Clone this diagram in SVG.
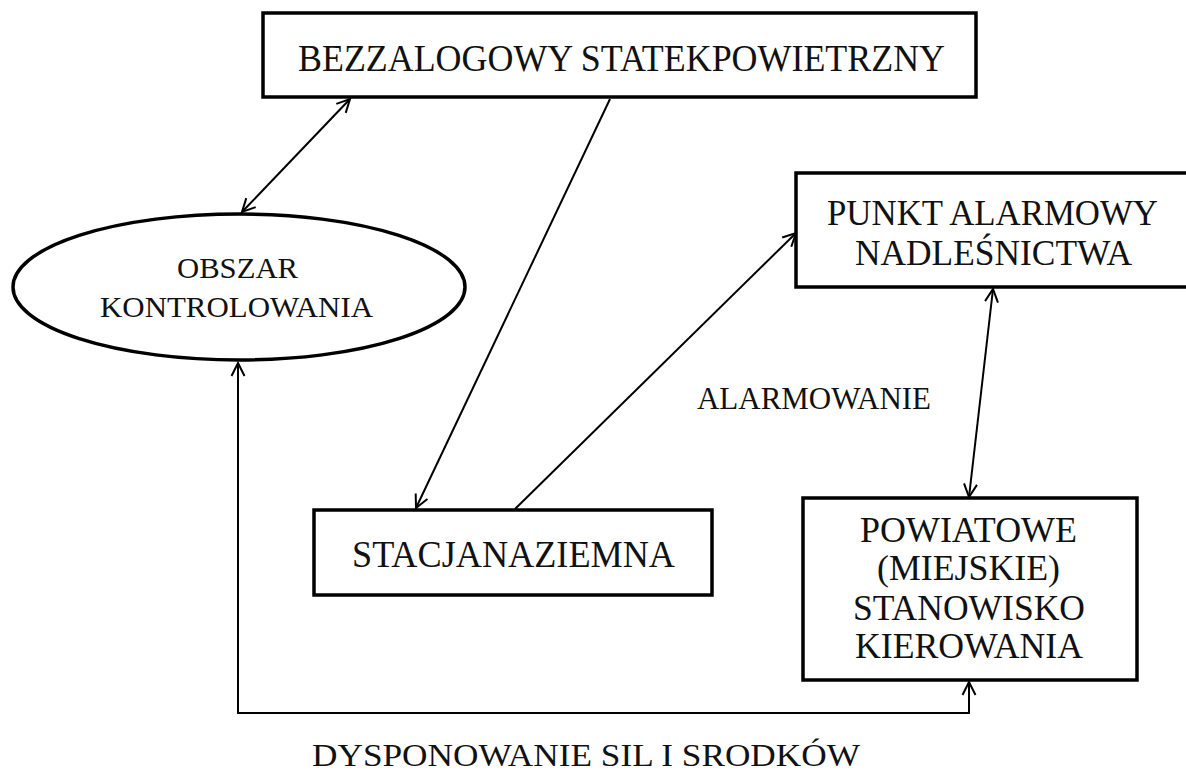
<svg xmlns="http://www.w3.org/2000/svg" width="1186" height="771" viewBox="0 0 1186 771">
<style>
.box{fill:#fff;stroke:#000;stroke-width:3.5}
.c{fill:none;stroke:#000;stroke-width:2}
text{font-family:"Liberation Serif","Times New Roman",serif;fill:#111}
</style>
<defs>
<marker id="a" markerWidth="18" markerHeight="16" refX="15" refY="8" orient="auto-start-reverse" markerUnits="userSpaceOnUse">
<path d="M2,1.5 L15,8 L2,14.5" fill="none" stroke="#000" stroke-width="2"/>
</marker>
</defs>
<rect width="1186" height="771" fill="#fff"/>
<g id="connectors">
<line class="c" x1="242" y1="212" x2="350" y2="99" marker-start="url(#a)" marker-end="url(#a)"/>
<line class="c" x1="610" y1="99" x2="416" y2="508" marker-end="url(#a)"/>
<line class="c" x1="515" y1="509" x2="796" y2="233" marker-end="url(#a)"/>
<line class="c" x1="993" y1="289" x2="969" y2="497" marker-start="url(#a)" marker-end="url(#a)"/>
<path class="c" d="M238,363 V713 H969 V682" marker-start="url(#a)" marker-end="url(#a)"/>
<text x="697" y="409" font-size="32" textLength="234" lengthAdjust="spacingAndGlyphs">ALARMOWANIE</text>
<text x="312" y="766" font-size="32" textLength="548" lengthAdjust="spacingAndGlyphs">DYSPONOWANIE SIL I SRODKÓW</text>
</g>
<g id="uav">
<rect class="box" x="263" y="13" width="713" height="84"/>
<text x="298" y="71" font-size="37" textLength="647" lengthAdjust="spacingAndGlyphs">BEZZALOGOWY STATEKPOWIETRZNY</text>
</g>
<g id="obszar">
<ellipse class="box" cx="239" cy="287" rx="226" ry="73"/>
<text x="177" y="278" font-size="30" textLength="121" lengthAdjust="spacingAndGlyphs">OBSZAR</text>
<text x="100" y="317" font-size="30" textLength="273" lengthAdjust="spacingAndGlyphs">KONTROLOWANIA</text>
</g>
<g id="punkt">
<rect class="box" x="796" y="173" width="392" height="114"/>
<text x="827" y="225" font-size="36" textLength="331" lengthAdjust="spacingAndGlyphs">PUNKT ALARMOWY</text>
<text x="855" y="265" font-size="36" textLength="277" lengthAdjust="spacingAndGlyphs">NADLEŚNICTWA</text>
</g>
<g id="stacja">
<rect class="box" x="314" y="510" width="398" height="85"/>
<text x="352" y="567" font-size="37" textLength="323" lengthAdjust="spacingAndGlyphs">STACJANAZIEMNA</text>
</g>
<g id="powiatowe">
<rect class="box" x="803" y="498" width="334" height="182"/>
<text x="860" y="542" font-size="35" textLength="217" lengthAdjust="spacingAndGlyphs">POWIATOWE</text>
<text x="877" y="580" font-size="35" textLength="183" lengthAdjust="spacingAndGlyphs">(MIEJSKIE)</text>
<text x="853" y="620" font-size="35" textLength="232" lengthAdjust="spacingAndGlyphs">STANOWISKO</text>
<text x="855" y="658" font-size="35" textLength="228" lengthAdjust="spacingAndGlyphs">KIEROWANIA</text>
</g>
</svg>
